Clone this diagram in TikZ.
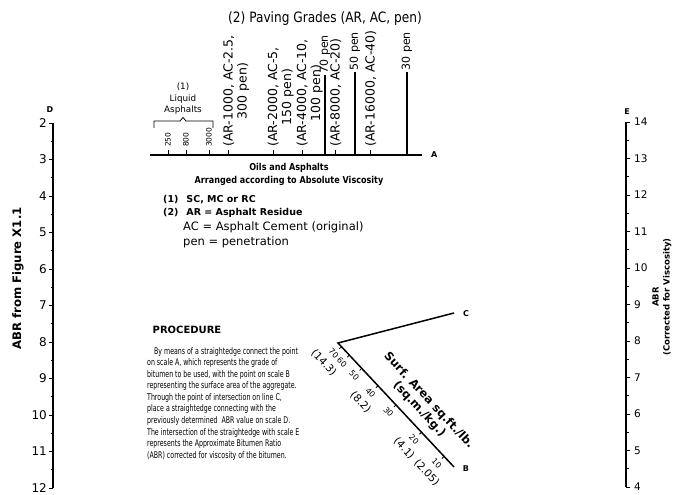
\documentclass[tikz,border=0pt]{standalone}
\usepackage{fontspec}
\setmainfont{DejaVu Sans}
\newfontfamily\condfont[FakeStretch=0.85]{DejaVu Sans}
\newfontfamily\procfont[FakeStretch=0.68]{DejaVu Sans}
\usetikzlibrary{positioning, calc}
\newcommand{\fsz}[2]{\fontsize{#1}{#2}\selectfont}
\tikzset{
  scaleline/.style = {line width=1.5pt},
  tickmark/.style  = {line width=0.8pt},
  penline/.style   = {line width=1.2pt},
  dnum/.style      = {anchor=east, inner sep=1pt, font=\fsz{12}{14}},
  enum/.style      = {anchor=west, inner sep=1pt, font=\fsz{10.5}{12}},
  scalelet/.style  = {inner sep=1pt, font=\bfseries\fsz{8}{9}},
  grade/.style     = {rotate=90, anchor=base west, align=center,
                      inner sep=1pt, font=\fsz{12.5}{14}},
  penlbl/.style    = {rotate=90, anchor=west, inner sep=1pt, font=\fsz{11}{13}},
  liqnum/.style    = {rotate=90, anchor=west, inner sep=1pt, font=\fsz{7.5}{9}},
  bnum/.style      = {rotate=-46.9, anchor=north, align=center, inner sep=7pt,
                      font=\fsz{10.5}{14}},
  legbold/.style   = {anchor=west, inner sep=1pt, font=\bfseries\fsz{9.5}{11}},
  legreg/.style    = {anchor=west, inner sep=1pt, font=\fsz{11.5}{13}},
}

\begin{document}
\begin{tikzpicture}[x=1pt, y=1pt]
  \useasboundingbox (0,0) rectangle (675,495);

  % scale D
  \draw[scaleline] (53,372) -- (53,7);
  \foreach \v in {2,...,12} {
    \draw[tickmark] (53,{372-(\v-2)*36.5}) -- ++(-4,0);
    \node[dnum] (d\v) at (48,{372-(\v-2)*36.5}) {\v};
  }
  \foreach \v in {2.5,3.5,...,11.5}
    \draw[tickmark] (53,{372-(\v-2)*36.5}) -- ++(-2.5,0);
  \node[scalelet] (dlet) at (50,385) {D};
  \node[rotate=90, font=\bfseries\fsz{11.7}{13}] (dtitle) at (18,216.5) {ABR from Figure X1.1};

  % scale E
  \draw[scaleline] (626,373) -- (626,8);
  \foreach \w in {4,...,14} {
    \draw[tickmark] (626,{373-(14-\w)*36.5}) -- ++(4,0);
    \node[enum] (e\w) at (633,{373-(14-\w)*36.5}) {\w};
  }
  \foreach \w in {4.5,5.5,...,13.5}
    \draw[tickmark] (626,{373-(14-\w)*36.5}) -- ++(2.5,0);
  \node[scalelet] (elet) at (627,383) {E};
  \node[rotate=90, align=center, font=\bfseries\fsz{8.5}{11}] (etitle) at (662,198)
    {ABR\\(Corrected for Viscosity)};

  % scale A
  \draw[scaleline] (150,340) -- (422,340);
  \node[scalelet, anchor=west] (alet) at (430,340) {A};
  \foreach \x in {168,186,209,228,273,302,335,370}
    \draw[tickmark] (\x,340) -- ++(0,4.5);
  \foreach \x/\n in {168/250,186/800,209/3000}
    \node[liqnum] (liq\n) at (\x,347) {\n};
  \draw[tickmark] (154,367) -- (154,374) -- (180,374) -- (183,377.5)
    -- (186,374) -- (213,374) -- (213,367);
  \node[align=center, inner sep=0pt, font=\fsz{8.8}{11.5}] (liqhead) at (183,396)
    {(1)\\Liquid\\Asphalts};

  \node[grade] (ar1000) at (246.5,347) {(AR-1000, AC-2.5,\\300 pen)};
  \node[grade] (ar2000) at (291,347) {(AR-2000, AC-5,\\150 pen)};
  \node[grade] (ar4000) at (320,347) {(AR-4000, AC-10,\\100 pen)};
  \node[grade] (ar8000) at (339.5,347) {(AR-8000, AC-20)};
  \node[grade] (ar16000) at (374.5,347) {(AR-16000, AC-40)};

  \draw[penline] (325,340) -- (325,420) node[penlbl] (pen70) {70 pen};
  \draw[penline] (355,340) -- (355,423) node[penlbl] (pen50) {50 pen};
  \draw[penline] (407,340) -- (407,423) node[penlbl] (pen30) {30 pen};

  \node[anchor=base, font=\condfont\fsz{14.3}{16}] (title) at (325,472)
    {(2) Paving Grades (AR, AC, pen)};
  \node[align=center, inner sep=1pt, font=\condfont\bfseries\fsz{9.5}{13}] (oils) at (289,320.5)
    {Oils and Asphalts\\Arranged according to Absolute Viscosity};

  % legend
  \node[legbold] (leg1) at (162,295) {(1)\hspace{8pt}SC, MC or RC};
  \node[legbold] (leg2) at (162,282) {(2)\hspace{8pt}AR = Asphalt Residue};
  \node[legreg] (leg3) at (182,268) {AC = Asphalt Cement (original)};
  \node[legreg] (leg4) at (182,253) {pen = penetration};

  % procedure
  \node[inner sep=1pt, font=\bfseries\fsz{10}{12}] (prochead) at (187,165) {PROCEDURE};
  \node[anchor=north west, align=left, inner sep=0pt, font=\procfont\fsz{9.2}{11.55}] (proctext) at (147,148)
    {\hspace*{7pt}By means of a straightedge connect the point\\
     on scale A, which represents the grade of\\
     bitumen to be used, with the point on scale B\\
     representing the surface area of the aggregate.\\
     Through the point of intersection on line C,\\
     place a straightedge connecting with the\\
     previously determined\ \ ABR value on scale D.\\
     The intersection of the straightedge with scale E\\
     represents the Approximate Bitumen Ratio\\
     (ABR) corrected for viscosity of the bitumen.};

  % scales B and C
  \coordinate (bv) at (338,152);
  \coordinate (bend) at (454,28);
  \coordinate (cend) at (454,182);
  \draw[scaleline] (cend) -- (bv) -- (bend);
  \node[scalelet] (clet) at (466,181) {C};
  \node[scalelet] (blet) at (466,26) {B};
  \foreach \p in {0.03,0.098,0.205,0.345,0.5,0.72,0.915}
    \draw[tickmark] ($(bv)!\p!(bend)$) -- ($(bv)!\p!(bend)!3pt!-90:(bend)$);
  \path (bv) -- (bend)
    node[bnum, pos=0.028] (b70) {{\fsz{8}{14}70}\\(14.3)}
    node[bnum, pos=0.098] (b60) {\fsz{8}{14}60}
    node[bnum, pos=0.205] (b50) {\fsz{8}{14}50}
    node[bnum, pos=0.345] (b40) {{\fsz{8}{14}40}\\(8.2)}
    node[bnum, pos=0.5] (b30) {\fsz{8}{14}30}
    node[bnum, pos=0.72] (b20) {{\fsz{8}{14}20}\\(4.1)}
    node[bnum, pos=0.915] (b10) {{\fsz{8}{14}10}\\(2.05)};
  \node[rotate=-46.9, align=center, inner sep=0pt, font=\bfseries\fsz{11.5}{13}] (surf) at (424,90)
    {Surf. Area sq.ft./lb.\\(sq.m./kg.)};
\end{tikzpicture}
\end{document}
